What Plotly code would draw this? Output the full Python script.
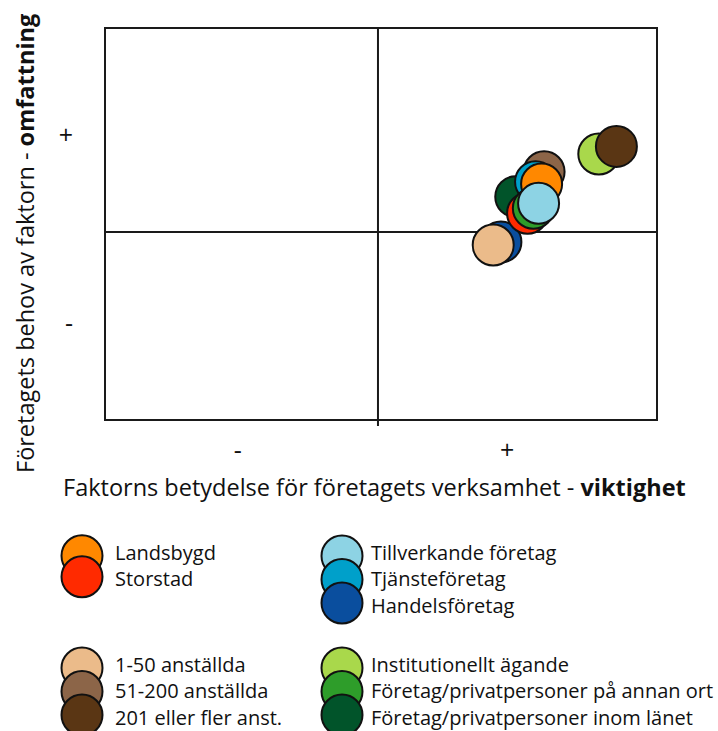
import plotly.graph_objects as go

W, H = 718, 731

# ---------------- data ----------------
series_names = [
    "Landsbygd", "Storstad",
    "Tillverkande företag", "Tjänsteföretag", "Handelsföretag",
    "1-50 anställda", "51-200 anställda", "201 eller fler anst.",
    "Institutionellt ägande", "Företag/privatpersoner på annan ort",
    "Företag/privatpersoner inom länet",
]
# importance (x) and extent (y), scale -1..1 with 0 = centre lines
importance_x = [0.595, 0.544, 0.584, 0.573, 0.447, 0.419, 0.604, 0.867, 0.803, 0.565, 0.501]
extent_y     = [0.246, 0.096, 0.147, 0.258, -0.051, -0.067, 0.309, 0.439, 0.400, 0.122, 0.181]
series_colors = [
    "#FF8800", "#FF2A00",
    "#8DD3E4", "#00A0CA", "#0A4E9E",
    "#EBBB8A", "#8C6548", "#5A3614",
    "#A9D84B", "#2E9D2A", "#01542A",
]
# stacking order of the bubbles (bottom first)
draw_order = ["Handelsföretag", "1-50 anställda", "Institutionellt ägande",
              "201 eller fler anst.", "Företag/privatpersoner inom länet",
              "51-200 anställda", "Tjänsteföretag", "Storstad",
              "Företag/privatpersoner på annan ort", "Landsbygd",
              "Tillverkande företag"]

x_tick_text = ["-", "+"]
y_tick_text = ["-", "+"]

legend_groups = [
    ["Landsbygd", "Storstad"],
    ["Tillverkande företag", "Tjänsteföretag", "Handelsföretag"],
    ["1-50 anställda", "51-200 anställda", "201 eller fler anst."],
    ["Institutionellt ägande", "Företag/privatpersoner på annan ort",
     "Företag/privatpersoner inom länet"],
]

# ---------------- layout constants ----------------
FONT = "Open Sans"
INK = "#1a1a1a"
px_left, px_right, px_top, px_bottom = 106, 656, 29, 419
xr = [-0.989, 1.011]
yr = [-0.959, 1.041]
idx = {n: i for i, n in enumerate(series_names)}

fig = go.Figure()

for name in draw_order:
    i = idx[name]
    fig.add_trace(go.Scatter(
        x=[importance_x[i]], y=[extent_y[i]], mode="markers", name=name,
        marker=dict(size=41, color=series_colors[i], line=dict(color="#111", width=2)),
        showlegend=False, hoverinfo="name", xaxis="x", yaxis="y", cliponaxis=False,
    ))

# ---- custom legend (overlapping swatches) ----
leg_cols = [(82, 113), (342, 369)]  # swatch centre x, text x
leg_rows_text = [552, 664]          # first text line y per block
text_step = 26.5
swatch_step = {2: 21, 3: 23.5}
annotations = []
for g, members in enumerate(legend_groups):
    col = g % 2
    blk = g // 2
    sx, tx = leg_cols[col]
    n = len(members)
    t0 = leg_rows_text[blk]
    tcenter = t0 + text_step * (n - 1) / 2
    s0 = tcenter - swatch_step[n] * (n - 1) / 2 + 1
    for k, name in enumerate(members):
        i = idx[name]
        fig.add_trace(go.Scatter(
            x=[sx], y=[s0 + k * swatch_step[n]], mode="markers",
            marker=dict(size=41, color=series_colors[i], line=dict(color="#111", width=2)),
            showlegend=False, hoverinfo="skip", xaxis="x2", yaxis="y2", cliponaxis=False,
        ))
        annotations.append(dict(
            x=tx, y=t0 + k * text_step, xref="x2", yref="y2", text=name,
            showarrow=False, xanchor="left", yanchor="middle",
            font=dict(family=FONT, size=20, color="#111"),
        ))

# axis titles
annotations.append(dict(
    x=374 / W, y=1 - 487 / H, xref="paper", yref="paper",
    text="Faktorns betydelse för företagets verksamhet - <b>viktighet</b>",
    showarrow=False, xanchor="center", yanchor="middle",
    font=dict(family=FONT, size=23.5, color="#111"),
))
annotations.append(dict(
    x=25 / W, y=1 - 244 / H, xref="paper", yref="paper",
    text="Företagets behov av faktorn - <b>omfattning</b>", textangle=-90,
    showarrow=False, xanchor="center", yanchor="middle",
    font=dict(family=FONT, size=23.5, color="#111"),
))

shapes = [
    dict(type="line", xref="x", yref="paper", x0=0, x1=0,
         y0=1 - 426 / H, y1=1 - px_top / H, line=dict(color=INK, width=2), layer="below"),
    dict(type="line", xref="paper", yref="y", x0=104 / W, x1=px_right / W,
         y0=0, y1=0, line=dict(color=INK, width=2), layer="below"),
]

leg_dom_top = 0.40
fig.update_layout(
    width=W, height=H, margin=dict(l=0, r=0, t=0, b=0),
    paper_bgcolor="white", plot_bgcolor="white",
    font=dict(family=FONT, color="#111"),
    xaxis=dict(domain=[px_left / W, px_right / W], range=xr, showgrid=False, zeroline=False,
               showline=True, mirror=True, linecolor=INK, linewidth=2,
               tickvals=[-0.51, 0.47], ticktext=x_tick_text, ticks="",
               ticklabelstandoff=8, tickfont=dict(family=FONT, size=25, color="#111"),
               fixedrange=True),
    yaxis=dict(domain=[1 - px_bottom / H, 1 - px_top / H], range=yr, showgrid=False, zeroline=False,
               showline=True, mirror=True, linecolor=INK, linewidth=2,
               tickvals=[-0.47, 0.497], ticktext=y_tick_text, ticks="",
               ticklabelstandoff=26, tickfont=dict(family=FONT, size=25, color="#111"),
               fixedrange=True),
    xaxis2=dict(domain=[0, 1], range=[0, W], visible=False, anchor="y2", fixedrange=True),
    yaxis2=dict(domain=[0, leg_dom_top], range=[H, H - leg_dom_top * H], visible=False,
                anchor="x2", fixedrange=True),
    shapes=shapes, annotations=annotations, showlegend=False,
)

fig.write_html("out.html", config={"displayModeBar": False},
               post_script="document.body.style.margin='0';document.body.style.overflow='hidden';")
